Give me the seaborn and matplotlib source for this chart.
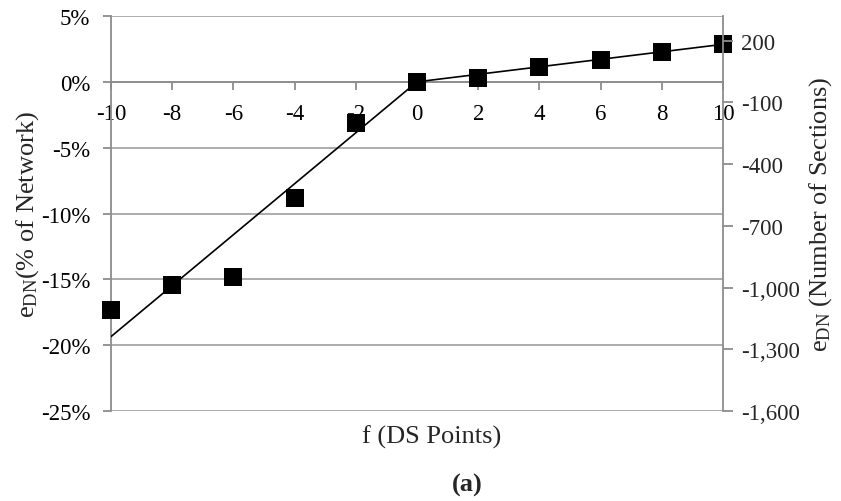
import matplotlib
matplotlib.use("Agg")
import matplotlib.pyplot as plt
import seaborn as sns
import pandas as pd
from matplotlib import font_manager
from matplotlib.ticker import FixedLocator, FuncFormatter

# Observed error at each DS-point shift (percent of network)
f_points = [-10, -8, -6, -4, -2, 0, 2, 4, 6, 8, 10]
e_dn_pct = [-17.35, -15.45, -14.85, -8.79, -3.1, 0.0, 0.3, 1.1, 1.67, 2.3, 2.85]

# Piecewise linear trend through the origin
trend_f = [-10, 0, 10]
trend_pct = [-19.35, 0.0, 2.85]

# Secondary axis: sections per percent of network
sections_per_pct = 64.0
left_ticks = [5, 0, -5, -10, -15, -20, -25]
right_ticks = [200, -100, -400, -700, -1000, -1300, -1600]
x_ticks = [-10, -8, -6, -4, -2, 0, 2, 4, 6, 8, 10]

sns.set_theme(style="white")

serif_names = sorted({f.name for f in font_manager.fontManager.ttflist if "Serif" in f.name})
serif_pick = "Liberation Serif" if "Liberation Serif" in serif_names else (serif_names[0] if serif_names else "DejaVu Serif")
plt.rcParams["font.family"] = "serif"
plt.rcParams["font.serif"] = [serif_pick, "DejaVu Serif"]
plt.rcParams["mathtext.fontset"] = "custom"
plt.rcParams["mathtext.rm"] = serif_pick
plt.rcParams["mathtext.it"] = serif_pick
plt.rcParams["axes.unicode_minus"] = False

grid_c = "#a6a6a6"
spine_c = "#8c8c8c"
tick_fs = 16.5
title_fs = 19

fig = plt.figure(figsize=(8.41, 5.02), dpi=100)
ax = fig.add_axes([111 / 841, 1 - 412 / 502, (723 - 111) / 841, (412 - 17) / 502])

obs = pd.DataFrame({"f": f_points, "e": e_dn_pct})
trend = pd.DataFrame({"f": trend_f, "e": trend_pct})

sns.lineplot(data=trend, x="f", y="e", color="black", linewidth=1.2, ax=ax, zorder=3)
sns.scatterplot(data=obs, x="f", y="e", marker="s", s=13.3 ** 2, color="black",
                edgecolor="black", linewidth=0, ax=ax, zorder=4, clip_on=False)

ax.set_xlim(-10, 10)
ax.set_ylim(-25, 5)
ax.yaxis.set_major_locator(FixedLocator(left_ticks))
ax.yaxis.set_major_formatter(FuncFormatter(lambda v, p: f"{int(round(v))}%"))
ax.xaxis.set_major_locator(FixedLocator(x_ticks))
ax.xaxis.set_major_formatter(FuncFormatter(lambda v, p: f"{int(round(v))}"))

ax.grid(axis="y", color=grid_c, linewidth=1.3, zorder=0)
ax.grid(axis="x", visible=False)
ax.set_axisbelow(True)

for side in ["top", "right"]:
    ax.spines[side].set_visible(False)
ax.spines["left"].set_color(spine_c)
ax.spines["left"].set_linewidth(1.3)
ax.spines["bottom"].set_position(("data", 0))
ax.spines["bottom"].set_color(spine_c)
ax.spines["bottom"].set_linewidth(1.3)

ax.tick_params(axis="x", direction="out", length=6, width=1.3, color=spine_c,
               labelsize=tick_fs, pad=9, bottom=True)
ax.tick_params(axis="y", direction="out", length=6, width=1.3, color=spine_c,
               labelsize=tick_fs, pad=9, left=True)
for lbl in ax.get_xticklabels() + ax.get_yticklabels():
    lbl.set_color("black")

ax.set_xlabel("")
ax.set_ylabel(r"e$_{\mathrm{DN}}$(% of Network)", fontsize=title_fs, labelpad=0)

# Secondary axis in number of sections
ax2 = ax.twinx()
ax2.set_ylim(-25 * sections_per_pct, 5 * sections_per_pct)
ax2.yaxis.set_major_locator(FixedLocator(right_ticks))
ax2.yaxis.set_major_formatter(FuncFormatter(lambda v, p: f"{int(round(v)):,}"))
for side in ["top", "left", "bottom"]:
    ax2.spines[side].set_visible(False)
ax2.spines["right"].set_color(spine_c)
ax2.spines["right"].set_linewidth(1.3)
ax2.tick_params(axis="y", direction="out", length=7, width=1.3, color=spine_c,
                labelsize=tick_fs, pad=6, right=True)
ax2.grid(False)
ax2.set_ylabel(r"e$_{\mathrm{DN}}$ (Number of Sections)", fontsize=title_fs, labelpad=5)

fig.text(432 / 841, 1 - 437 / 502, "f (DS Points)", ha="center", va="center", fontsize=title_fs)
fig.text(467 / 841, 1 - 485 / 502, "(a)", ha="center", va="center", fontsize=title_fs,
         fontweight="bold")

fig.savefig("out.png", dpi=100, facecolor="white")
